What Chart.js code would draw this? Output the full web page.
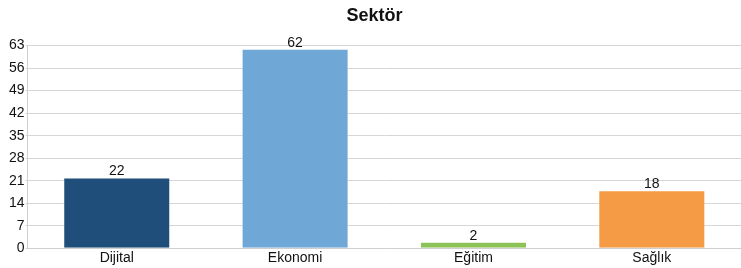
<!DOCTYPE html>
<html lang="tr">
<head>
<meta charset="UTF-8">
<title>Sektör</title>
<script src="https://cdn.jsdelivr.net/npm/chart.js"></script>
<style>
  html, body { margin: 0; padding: 0; background: #fff; }
  #wrap { width: 741px; height: 268px; }
</style>
</head>
<body>
<div id="wrap"><canvas id="barChart"></canvas></div>
<script>
const categories = ['Dijital', 'Ekonomi', 'Eğitim', 'Sağlık'];
const values = [22, 62, 2, 18];
const barColors = ['#1f4e7b', '#6fa7d6', '#8dc257', '#f59a45'];
const yTicks = [0, 7, 14, 21, 28, 35, 42, 49, 56, 63];

const fontFamily = '"Liberation Sans", Arial, sans-serif';

// draws the value above each bar
const valueLabels = {
  id: 'valueLabels',
  afterDatasetsDraw(chart) {
    const ctx = chart.ctx;
    ctx.save();
    ctx.font = '14px ' + fontFamily;
    ctx.fillStyle = '#111';
    ctx.textAlign = 'center';
    ctx.textBaseline = 'bottom';
    chart.getDatasetMeta(0).data.forEach((bar, i) => {
      ctx.fillText(values[i], bar.x, bar.y + 1);
    });
    ctx.restore();
  }
};

new Chart(document.getElementById('barChart'), {
  type: 'bar',
  data: {
    labels: categories,
    datasets: [{
      data: values,
      backgroundColor: barColors,
      borderColor: 'rgba(255,255,255,0.5)',
      borderWidth: 1,
      categoryPercentage: 1,
      barPercentage: 0.6
    }]
  },
  options: {
    responsive: true,
    maintainAspectRatio: false,
    animation: false,
    layout: { padding: { left: 8, right: 0, top: 0, bottom: 0 } },
    plugins: {
      legend: { display: false },
      tooltip: { enabled: false },
      title: {
        display: true,
        text: 'Sektör',
        color: '#111',
        font: { family: fontFamily, size: 18, weight: 'bold' },
        padding: { top: 5, bottom: 19 }
      }
    },
    scales: {
      x: {
        grid: { display: false, drawTicks: false },
        border: { color: '#cfcfcf' },
        ticks: {
          color: '#111',
          padding: 1.5,
          font: { family: fontFamily, size: 14 }
        }
      },
      y: {
        min: 0,
        max: 63,
        afterBuildTicks(axis) { axis.ticks = yTicks.map(v => ({ value: v })); },
        grid: { color: '#d6d6d6', tickLength: 2 },
        border: { color: '#cfcfcf' },
        ticks: {
          color: '#111',
          padding: 1,
          font: { family: fontFamily, size: 14 }
        }
      }
    }
  },
  plugins: [valueLabels]
});
</script>
</body>
</html>
